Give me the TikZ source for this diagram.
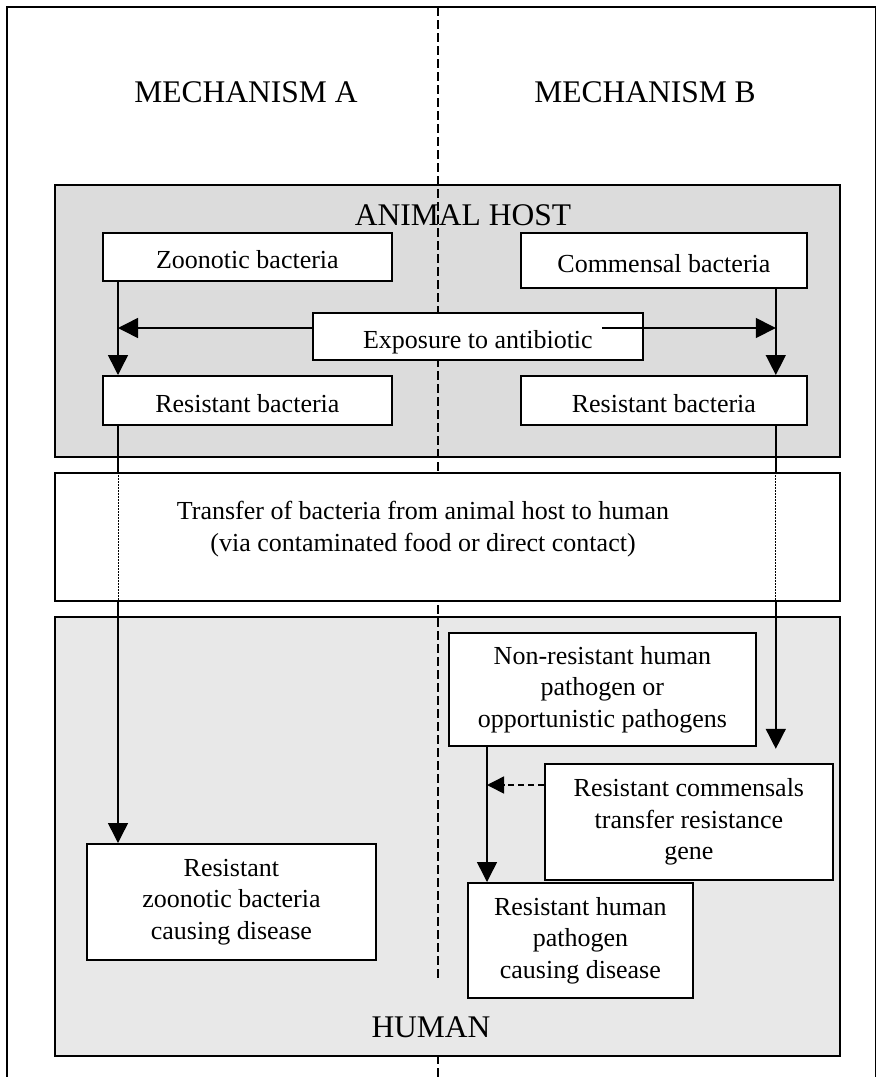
\documentclass[tikz,border=0pt]{standalone}
\usepackage{fontspec}
\setmainfont{Liberation Serif}
\usetikzlibrary{arrows.meta,calc}

\definecolor{hostgray}{RGB}{220,220,220}
\definecolor{humangray}{RGB}{232,232,232}

\begin{document}
\begin{tikzpicture}[x=1pt,y=1pt,yscale=-1,xscale=1,
		frame/.style={draw=black, line width=1.8pt},
		container/.style={draw=black, line width=1.8pt, anchor=north west, inner sep=0pt},
		box/.style={draw=black, line width=1.8pt, fill=white, anchor=north west, inner sep=0pt, align=center, font=\fontsize{26}{31.5}\selectfont},
		onebox/.style={box, text height=24pt, text depth=0pt},
		heading/.style={inner sep=0pt, font=\fontsize{31.5}{36}\selectfont},
		bodytext/.style={inner sep=0pt, align=center, font=\fontsize{26}{31.5}\selectfont},
		divider/.style={line width=1.2pt, dash pattern=on 9pt off 4pt},
		link/.style={line width=1.5pt},
		arr/.style={link, -{Triangle[length=20pt,width=20pt]}},
		dotlink/.style={line width=1pt, dash pattern=on 1.5pt off 1.5pt},
		dasharr/.style={line width=1.5pt, dash pattern=on 6pt off 4pt, -{Triangle[length=17pt,width=17pt]}}]
		\useasboundingbox (0,0) rectangle (877,1077);

		% Draw the outer frame (open at the bottom)
		\draw[frame] (7,1077) -- (7,7) -- (875.5,7) -- (875.5,1077);

		% Draw the two grey regions
		\node[container, fill=hostgray, minimum width=785pt, minimum height=272pt] (animal) at (54,184) {};
		\node[container, fill=humangray, minimum width=785pt, minimum height=439pt] (human) at (54,616) {};

		% Draw the dashed line that splits the two mechanisms
		\draw[divider] (438,7) -- (438,978);
		\draw[divider] (438,1055) -- (438,1077);

		% Draw the white transfer band between the regions
		\node[container, fill=white, minimum width=785pt, minimum height=128pt] (transfer) at (54,472) {};

		% Column headings and region titles
		\node[heading] (mechA) at (246,92.5) {MECHANISM A};
		\node[heading] (mechB) at (645,92.5) {MECHANISM B};
		\node[heading] (animaltitle) at (463,215) {ANIMAL HOST};
		\node[heading] (humantitle) at (431,1027) {HUMAN};
		\node[bodytext] (transfertext) at (423,529) {Transfer of bacteria from animal host to human\\(via contaminated food or direct contact)};

		% Boxes inside the animal host
		\node[onebox, minimum width=289pt, minimum height=48pt] (zoonotic) at (102,232) {Zoonotic bacteria};
		\node[onebox, minimum width=286pt, minimum height=55pt] (commensal) at (520,232) {Commensal bacteria};
		\node[onebox, minimum width=330pt, minimum height=47pt] (exposure) at (312,312) {Exposure to antibiotic};
		\node[onebox, minimum width=289pt, minimum height=49pt] (resistA) at (102,375) {Resistant bacteria};
		\node[onebox, minimum width=286pt, minimum height=49pt] (resistB) at (520,375) {Resistant bacteria};

		% Boxes inside the human
		\node[box, minimum width=307pt, minimum height=113pt] (nonresist) at (448,632) {Non-resistant human\\pathogen or\\opportunistic pathogens};
		\node[box, minimum width=288pt, minimum height=116pt] (commtransfer) at (544,763) {Resistant commensals\\transfer resistance\\gene};
		\node[box, minimum width=289pt, minimum height=116pt] (zoodisease) at (86,843) {Resistant\\zoonotic bacteria\\causing disease};
		\node[box, minimum width=225pt, minimum height=115pt] (humdisease) at (467,882) {Resistant human\\pathogen\\causing disease};

		% Where the vertical connectors run
		\coordinate (lineA) at ($(zoonotic.south west)+(16,0)$);
		\coordinate (lineB) at ($(commensal.south east)+(-32,0)$);
		\coordinate (lineC) at ($(nonresist.south west)+(39,0)$);
		\coordinate (expoL) at ($(exposure.north west)+(0,16)$);
		\coordinate (expoR) at ($(exposure.north east)+(-42,16)$);
		\coordinate (geneY) at ($(commtransfer.north west)+(0,22)$);
		\coordinate (landB) at ($(nonresist.south east)+(19,2)$);

		% Mechanism A: zoonotic bacteria become resistant and reach the human
		\draw[arr] (lineA) -- (lineA |- resistA.north);
		\draw[arr] (expoL) -- (expoL -| lineA);
		\draw[link] (lineA |- resistA.south) -- (lineA |- transfer.north);
		\draw[dotlink] (lineA |- transfer.north) -- (lineA |- transfer.south);
		\draw[arr] (lineA |- transfer.south) -- (lineA |- zoodisease.north);

		% Mechanism B: commensals become resistant and pass the gene on
		\draw[arr] (lineB) -- (lineB |- resistB.north);
		\draw[arr] (expoR) -- (expoR -| lineB);
		\draw[link] (lineB |- resistB.south) -- (lineB |- transfer.north);
		\draw[dotlink] (lineB |- transfer.north) -- (lineB |- transfer.south);
		\draw[arr] (lineB |- transfer.south) -- (landB);
		\draw[arr] (lineC) -- (lineC |- humdisease.north);
		\draw[dasharr] (geneY) -- (geneY -| lineC);
	\end{tikzpicture}
\end{document}
